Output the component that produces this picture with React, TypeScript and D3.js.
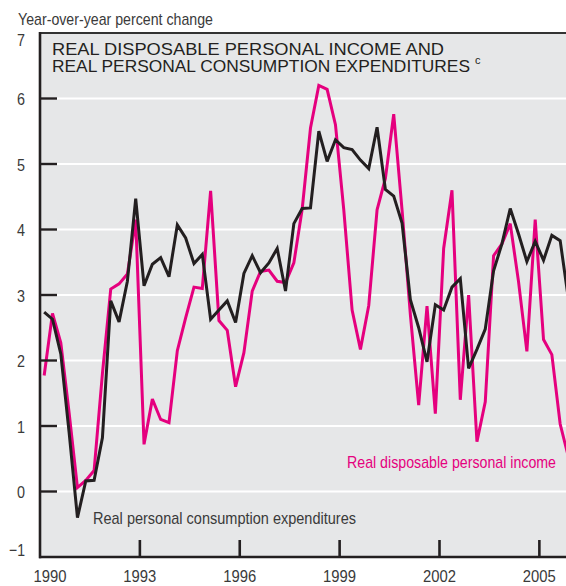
import React from 'react';
import * as d3 from 'd3';

// Quarterly, 1990:Q1 - 2005:Q4, year-over-year percent change
const PCE_VALUES = [
  2.74, 2.63, 2.1, 0.9, -0.4, 0.16, 0.17, 0.82,
  2.91, 2.59, 3.21, 4.47, 3.14, 3.47, 3.57, 3.28,
  4.07, 3.87, 3.48, 3.62, 2.63, 2.77, 2.91, 2.58,
  3.33, 3.6, 3.34, 3.49, 3.71, 3.06, 4.09, 4.32,
  4.33, 5.5, 5.04, 5.37, 5.25, 5.22, 5.06, 4.93,
  5.56, 4.61, 4.51, 4.1, 2.93, 2.5, 1.98, 2.85,
  2.77, 3.12, 3.25, 1.88, 2.17, 2.48, 3.37, 3.78,
  4.32, 3.93, 3.51, 3.82, 3.53, 3.91, 3.83, 2.93,
];
const DPI_VALUES = [
  1.77, 2.72, 2.27, 1.2, 0.06, 0.17, 0.32, 1.8,
  3.09, 3.17, 3.32, 4.15, 0.72, 1.41, 1.1, 1.05,
  2.15, 2.65, 3.12, 3.1, 4.59, 2.61, 2.46, 1.6,
  2.12, 3.06, 3.36, 3.38, 3.21, 3.19, 3.49, 4.31,
  5.55, 6.2, 6.14, 5.6, 4.3, 2.77, 2.17, 2.84,
  4.3, 4.78, 5.76, 4.3, 2.7, 1.32, 2.83, 1.19,
  3.71, 4.6, 1.4, 3.0, 0.76, 1.37, 3.6, 3.78,
  4.09, 3.2, 2.14, 4.15, 2.32, 2.09, 1.03, 0.52,
];
const START_YEAR = 1990;
const YEAR_TICKS = [1990, 1993, 1996, 1999, 2002, 2005];
const Y_TICKS = [-1, 0, 1, 2, 3, 4, 5, 6, 7];

const W = 566;
const H = 586;
const L = 40;
const R = 566;
const T = 33;
const B = 557;

const RF = "'Liberation Sans', Arial, Helvetica, sans-serif";
const MAGENTA = '#e5007e';
const DARK = '#231f20';
const TXT = '#3a3a3a';

export default function App() {
  const x = d3.scaleLinear().domain([1990, 2005.8]).range([L, R]);
  const y = d3.scaleLinear().domain([-1, 7]).range([B, T]);
  const dateOf = (i: number) => START_YEAR + (i + 0.5) / 4;
  const line = d3
    .line<number>()
    .x((_d, i) => x(dateOf(i)))
    .y((d) => y(d));

  const narrow = { fontFamily: RF, lengthAdjust: 'spacingAndGlyphs' as const };

  return (
    <svg
      width={W}
      height={H}
      style={{ position: 'absolute', left: 0, top: 0, background: '#fff' }}
    >
      <defs>
        <clipPath id="plot">
          <rect x={L} y={T} width={R - L} height={B - T} />
        </clipPath>
      </defs>
      <rect x={L} y={T} width={R - L} height={B - T} fill="#e6e7e8" />
      {Y_TICKS.filter((v) => v > -1 && v < 7).map((v) => (
        <line key={'g' + v} x1={L} x2={R} y1={y(v)} y2={y(v)} stroke="#fff" strokeWidth={2.2} />
      ))}
      <g clipPath="url(#plot)" fill="none" strokeLinejoin="miter" strokeMiterlimit={3}>
        <path d={line(DPI_VALUES) || ''} stroke={MAGENTA} strokeWidth={3} />
        <path d={line(PCE_VALUES) || ''} stroke={DARK} strokeWidth={3} />
      </g>
      {/* frame */}
      <line x1={L} x2={R} y1={T} y2={T} stroke="#333" strokeWidth={2} />
      <line x1={L} x2={L} y1={T - 1} y2={B + 1.2} stroke={DARK} strokeWidth={2.6} />
      <line x1={L - 1} x2={R} y1={B} y2={B} stroke={DARK} strokeWidth={2.6} />
      {Y_TICKS.filter((v) => v > -1 && v < 7).map((v) => (
        <line key={'t' + v} x1={L} x2={L + 17} y1={y(v)} y2={y(v)} stroke={DARK} strokeWidth={2.4} />
      ))}
      {YEAR_TICKS.filter((yr) => yr > 1990).map((yr) => (
        <line key={'xt' + yr} x1={x(yr)} x2={x(yr)} y1={B} y2={B - 17} stroke={DARK} strokeWidth={2.6} />
      ))}
      {/* y labels */}
      {Y_TICKS.map((v) => {
        const label = v < 0 ? '\u2212' + Math.abs(v) : String(v);
        return (
          <text
            key={'yl' + v}
            x={25}
            y={y(v) + (v === 7 ? 13 : v === -1 ? -1 : 6.5)}
            textAnchor="end"
            fontSize={17}
            fill={TXT}
            textLength={label.length * 8}
            {...narrow}
          >
            {label}
          </text>
        );
      })}
      {/* x labels */}
      {YEAR_TICKS.map((yr) => (
        <text
          key={'xl' + yr}
          x={yr === 1990 ? x(yr) + 10 : x(yr)}
          y={582}
          textAnchor="middle"
          fontSize={17}
          fill={TXT}
          textLength={33}
          {...narrow}
        >
          {yr}
        </text>
      ))}
      <text x={18} y={25} fontSize={17} fill={TXT} textLength={195} {...narrow}>
        Year-over-year percent change
      </text>
      <text x={52} y={55} fontSize={16.5} fill={DARK} textLength={392} {...narrow}>
        REAL DISPOSABLE PERSONAL INCOME AND
      </text>
      <text x={52} y={72} fontSize={16.5} fill={DARK} textLength={418} {...narrow}>
        REAL PERSONAL CONSUMPTION EXPENDITURES
      </text>
      <text x={475} y={64} fontSize={11} fill={DARK} fontFamily={RF}>
        c
      </text>
      <text x={347} y={468} fontSize={17} fill={MAGENTA} textLength={209} {...narrow}>
        Real disposable personal income
      </text>
      <text x={93} y={524} fontSize={17} fill={TXT} textLength={263} {...narrow}>
        Real personal consumption expenditures
      </text>
    </svg>
  );
}
